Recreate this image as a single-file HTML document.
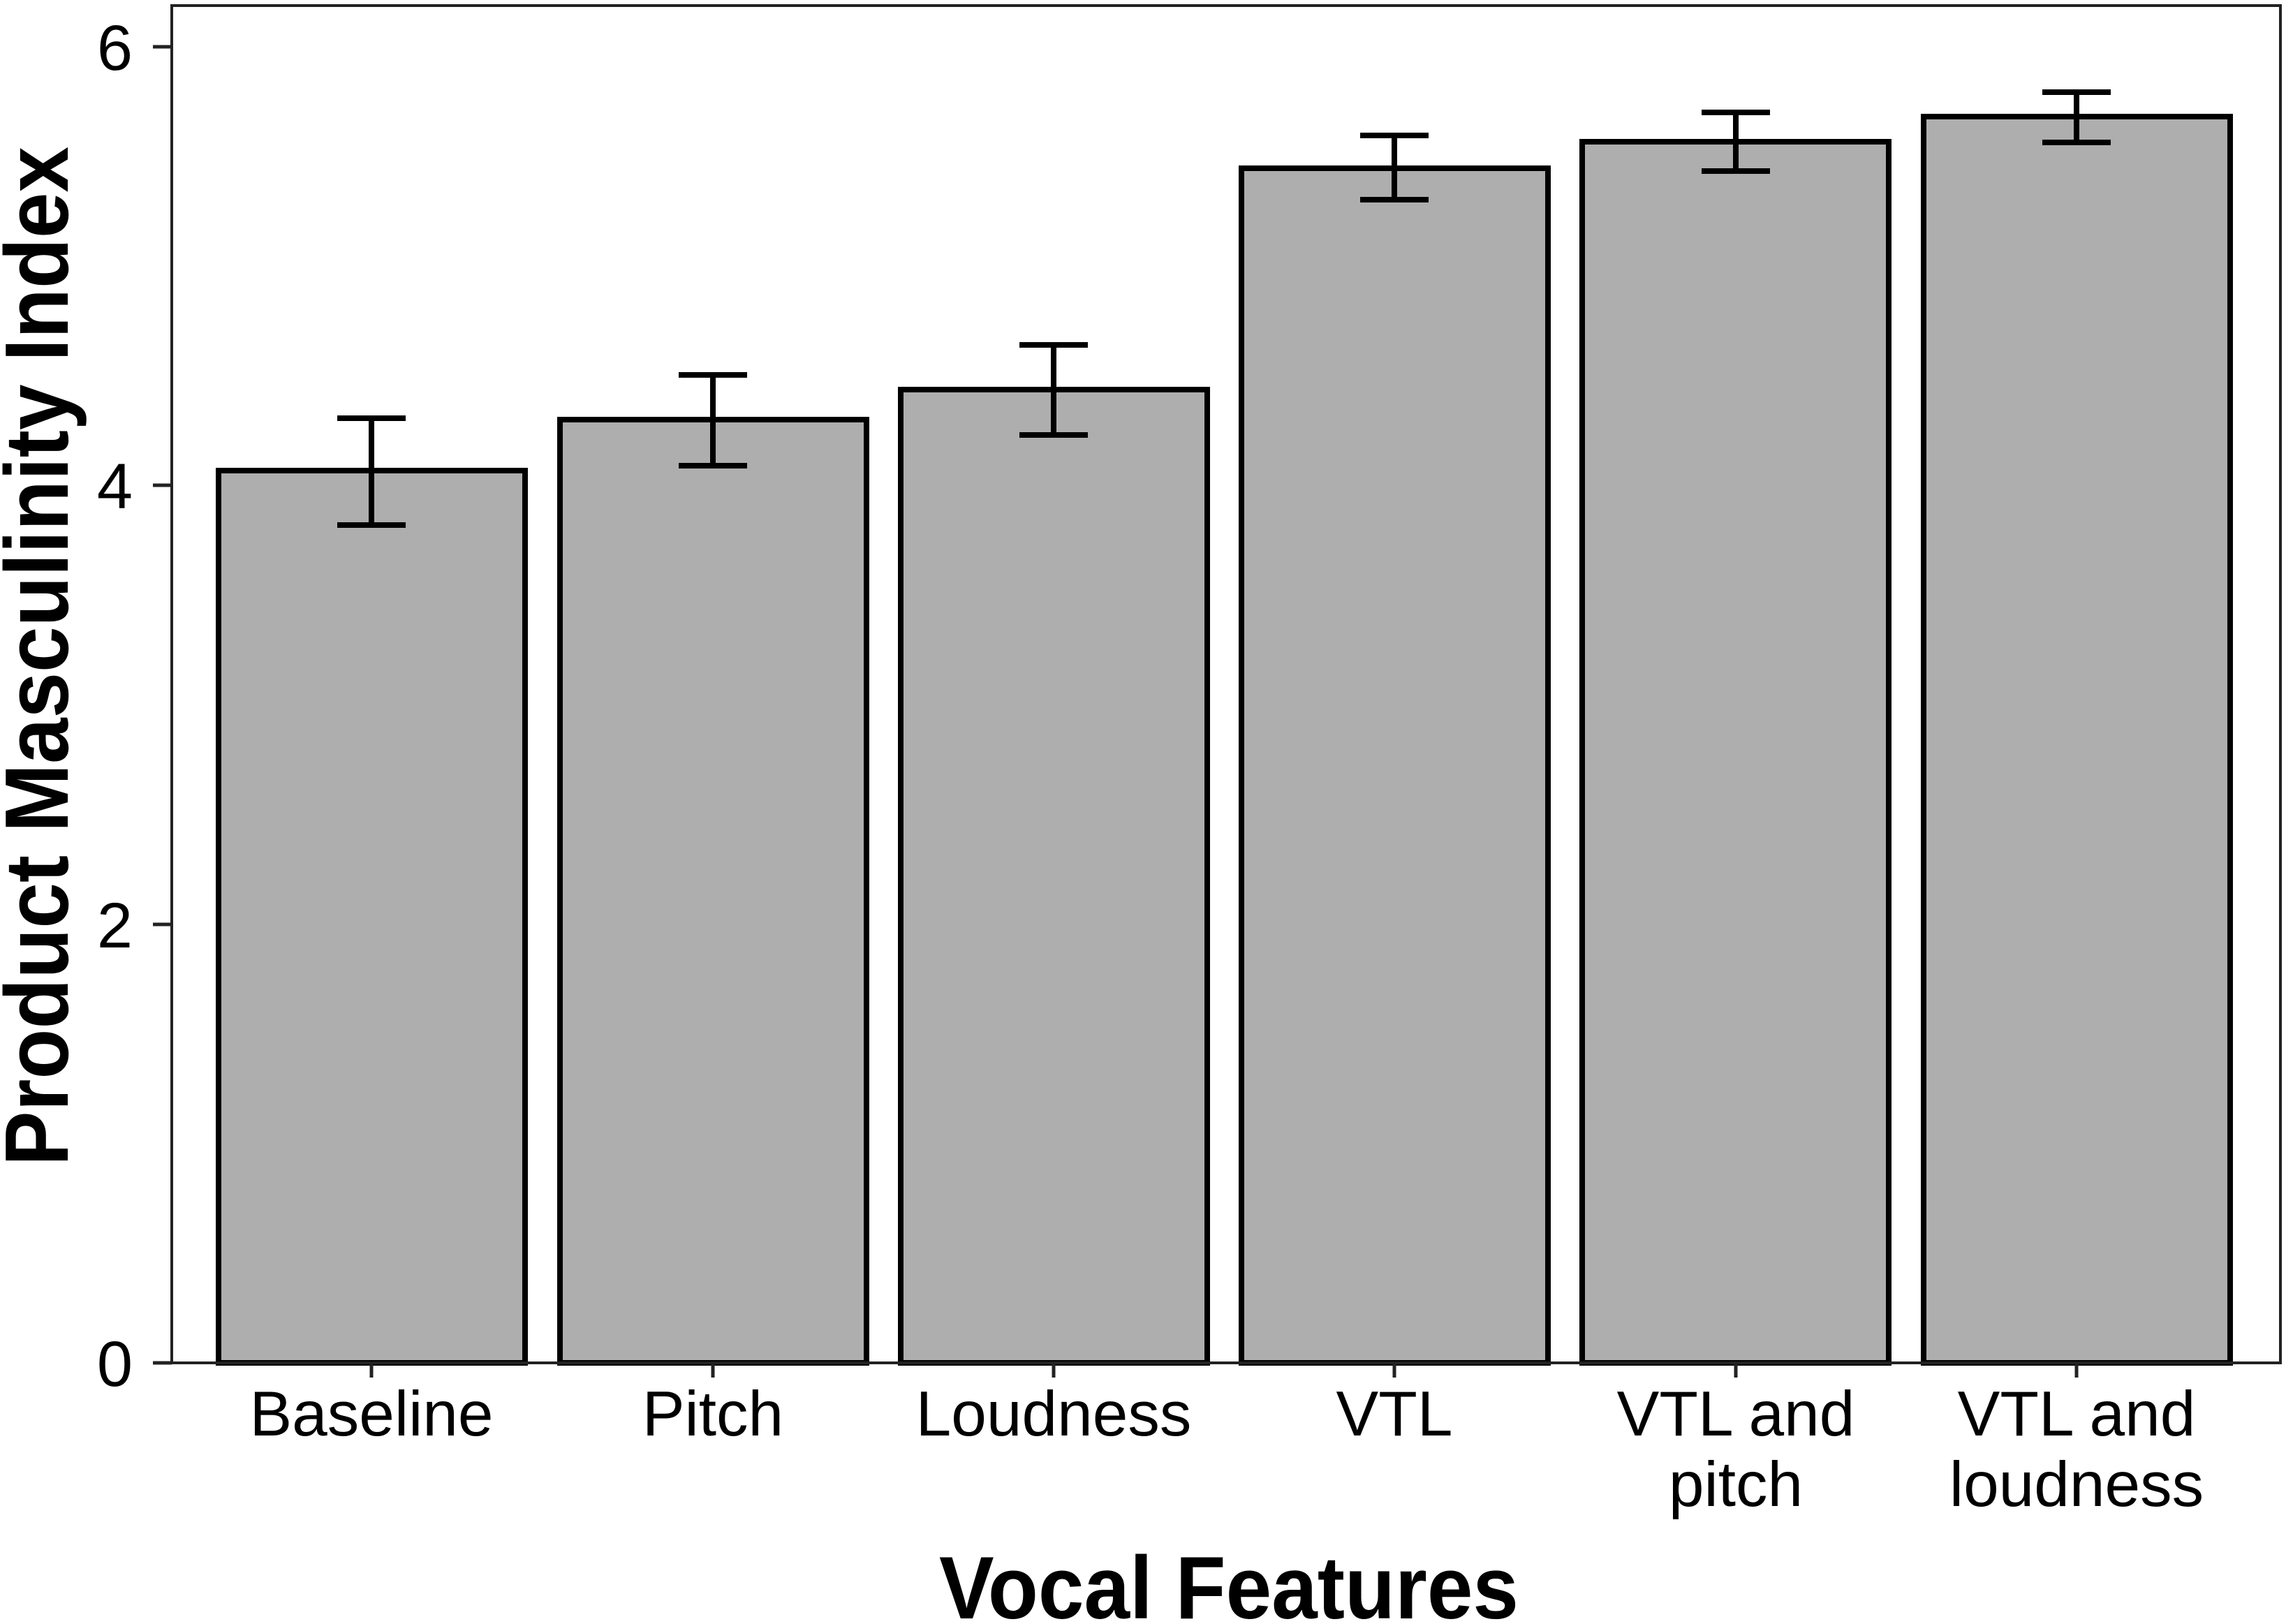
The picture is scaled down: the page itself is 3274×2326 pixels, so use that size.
<!DOCTYPE html>
<html><head><meta charset="utf-8"><style>html,body{margin:0;padding:0;background:#fff}svg{display:block}</style></head>
<body>
<svg width="3274" height="2326" viewBox="0 0 3274 2326" xmlns="http://www.w3.org/2000/svg" font-family="Liberation Sans, Arial, sans-serif">
<rect width="3274" height="2326" fill="#fff"/>
<!-- bars: y = 1952 - v*314.2 -->
<g fill="#aeaeae" stroke="#000" stroke-width="8">
<rect x="313" y="674" width="439" height="1278"/>
<rect x="802" y="601" width="439" height="1351"/>
<rect x="1290" y="558" width="439" height="1394"/>
<rect x="1778" y="241" width="439" height="1711"/>
<rect x="2266" y="203" width="439" height="1749"/>
<rect x="2755" y="167" width="439" height="1785"/>
</g>
<!-- error bars -->
<g stroke="#000" stroke-width="8" fill="none">
<path d="M532 599V752M483 599H581M483 752H581"/>
<path d="M1021 537V667M972 537H1070M972 667H1070"/>
<path d="M1509 494V623M1460 494H1558M1460 623H1558"/>
<path d="M1997 194V286M1948 194H2046M1948 286H2046"/>
<path d="M2486 161V245M2437 161H2535M2437 245H2535"/>
<path d="M2974 132V204M2925 132H3023M2925 204H3023"/>
</g>
<!-- panel -->
<rect x="246" y="8" width="3020" height="1944" fill="none" stroke="#222" stroke-width="4"/>
<!-- y ticks -->
<g stroke="#222" stroke-width="5">
<path d="M219 67H246M219 695H246M219 1324H246M219 1952H246"/>
<path d="M532 1952V1973M1021 1952V1973M1509 1952V1973M1997 1952V1973M2486 1952V1973M2974 1952V1973"/>
</g>
<g font-size="92" text-anchor="end" fill="#000">
<text x="190" y="100">6</text>
<text x="190" y="728">4</text>
<text x="190" y="1357">2</text>
<text x="190" y="1985">0</text>
</g>
<g font-size="91" text-anchor="middle" fill="#000">
<text x="532" y="2056">Baseline</text>
<text x="1021" y="2056">Pitch</text>
<text x="1509" y="2056">Loudness</text>
<text x="1997" y="2056">VTL</text>
<text x="2486" y="2056">VTL and</text>
<text x="2486" y="2157">pitch</text>
<text x="2974" y="2056">VTL and</text>
<text x="2974" y="2157">loudness</text>
</g>
<text x="1760" y="2318" font-size="127" font-weight="bold" text-anchor="middle" textLength="830" lengthAdjust="spacingAndGlyphs">Vocal Features</text>
<text transform="translate(97,940) rotate(-90)" font-size="129" font-weight="bold" text-anchor="middle" textLength="1460" lengthAdjust="spacingAndGlyphs">Product Masculinity Index</text>
</svg>
</body></html>
